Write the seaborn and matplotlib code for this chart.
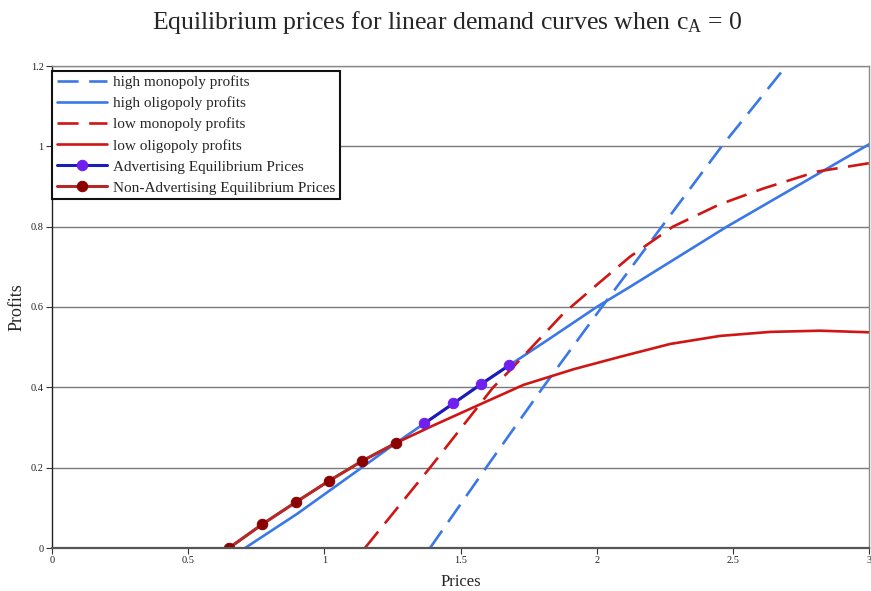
import matplotlib
matplotlib.use("Agg")
import matplotlib.pyplot as plt
import seaborn as sns

# Profit curves (price, profit)
high_mono_x = [1.388, 1.594, 1.803, 2.019, 2.239, 2.459, 2.696, 2.73]
high_mono_y = [0.0, 0.2, 0.4, 0.6, 0.8, 1.0, 1.2, 1.23]

high_olig_x = [0.709, 0.90, 1.137, 1.262, 1.474, 1.682, 1.829, 2.0, 2.122, 2.478, 3.0]
high_olig_y = [0.0, 0.085, 0.2, 0.261, 0.36, 0.456, 0.522, 0.6, 0.65, 0.8, 1.005]

low_mono_x = [1.149, 1.388, 1.62, 1.694, 1.878, 2.0, 2.122, 2.28, 2.45, 2.612, 2.808, 3.0]
low_mono_y = [0.0, 0.2, 0.4, 0.451, 0.584, 0.655, 0.725, 0.8, 0.855, 0.895, 0.937, 0.958]

low_olig_x = [0.650, 0.772, 0.895, 1.017, 1.140, 1.262, 1.40, 1.547, 1.731, 1.915,
              2.086, 2.270, 2.453, 2.637, 2.820, 3.0]
low_olig_y = [0.0, 0.059, 0.114, 0.167, 0.217, 0.261, 0.305, 0.350, 0.406, 0.445,
              0.476, 0.508, 0.528, 0.538, 0.541, 0.537]

# Equilibrium prices and the profits they earn
adv_x = [1.367, 1.474, 1.575, 1.679]
adv_y = [0.310, 0.360, 0.408, 0.455]

nonadv_x = [0.650, 0.772, 0.895, 1.017, 1.140, 1.262]
nonadv_y = [0.0, 0.059, 0.114, 0.167, 0.217, 0.261]

x_ticks = [0, 0.5, 1, 1.5, 2, 2.5, 3]
x_tick_labels = ["0", "0.5", "1", "1.5", "2", "2.5", "3"]
y_ticks = [0, 0.2, 0.4, 0.6, 0.8, 1.0, 1.2]
y_tick_labels = ["0", "0.2", "0.4", "0.6", "0.8", "1", "1.2"]

sns.set_style("white")
plt.rcParams["font.family"] = ["Liberation Serif", "DejaVu Serif"]
plt.rcParams["mathtext.fontset"] = "custom"
plt.rcParams["mathtext.rm"] = "Liberation Serif"
plt.rcParams["mathtext.it"] = "Liberation Serif:italic"

BLUE = "#3b78e7"
RED = "#d01515"

fig = plt.figure(figsize=(8.71, 5.91), dpi=100)
ax = fig.add_axes([52 / 871, 43 / 591, 817 / 871, 482 / 591])

lw = 1.9
sns.lineplot(x=high_mono_x, y=high_mono_y, ax=ax, color=BLUE, lw=lw,
             label="high monopoly profits", sort=False)
ax.lines[-1].set_dashes((8, 4))
sns.lineplot(x=high_olig_x, y=high_olig_y, ax=ax, color=BLUE, lw=lw,
             label="high oligopoly profits", sort=False)
sns.lineplot(x=low_mono_x, y=low_mono_y, ax=ax, color=RED, lw=lw,
             label="low monopoly profits", sort=False)
ax.lines[-1].set_dashes((8, 4))
sns.lineplot(x=low_olig_x, y=low_olig_y, ax=ax, color=RED, lw=lw,
             label="low oligopoly profits", sort=False)
sns.lineplot(x=adv_x, y=adv_y, ax=ax, color="#1c1cb8", lw=2.2, marker="o",
             markersize=7.5, markerfacecolor="#7020ee", markeredgecolor="#7020ee",
             label="Advertising Equilibrium Prices", sort=False)
sns.lineplot(x=nonadv_x, y=nonadv_y, ax=ax, color="#b32a2a", lw=2.2, marker="o",
             markersize=7.5, markerfacecolor="#8b0000", markeredgecolor="#8b0000",
             label="Non-Advertising Equilibrium Prices", sort=False)

ax.set_xlim(0, 3)
ax.set_ylim(0, 1.2)
ax.set_xticks(x_ticks)
ax.set_xticklabels(x_tick_labels, fontsize=7.5)
ax.set_yticks(y_ticks)
ax.set_yticklabels(y_tick_labels, fontsize=7.5)
ax.tick_params(axis="both", direction="out", length=4, width=0.8, color="#333333",
               pad=2, labelcolor="#222222", bottom=True, left=True)

ax.yaxis.grid(True, color="#7a7a7a", lw=1.0)
ax.xaxis.grid(False)
ax.set_axisbelow(True)
for side in ("top", "right"):
    ax.spines[side].set_color("#8a8a8a")
    ax.spines[side].set_linewidth(1.0)
ax.spines["left"].set_color("#222222")
ax.spines["left"].set_linewidth(1.0)
ax.spines["bottom"].set_color("#555555")
ax.spines["bottom"].set_linewidth(1.6)

ax.set_xlabel("Prices", fontsize=12, labelpad=6)
ax.set_ylabel("Profits", fontsize=13, labelpad=4)
fig.suptitle(r"Equilibrium prices for linear demand curves when c$_{\mathrm{A}}$ = 0",
             fontsize=18.5, x=0.514, y=0.985)

leg = ax.legend(loc="upper left", bbox_to_anchor=(0.0, 0.99), fontsize=11,
                frameon=True, fancybox=False, edgecolor="#111111",
                borderaxespad=0.0, handlelength=3.3, handletextpad=0.4,
                labelspacing=0.48, borderpad=0.3)
leg.get_frame().set_linewidth(1.5)
leg.get_frame().set_alpha(1.0)

fig.savefig("out.png", dpi=100)
